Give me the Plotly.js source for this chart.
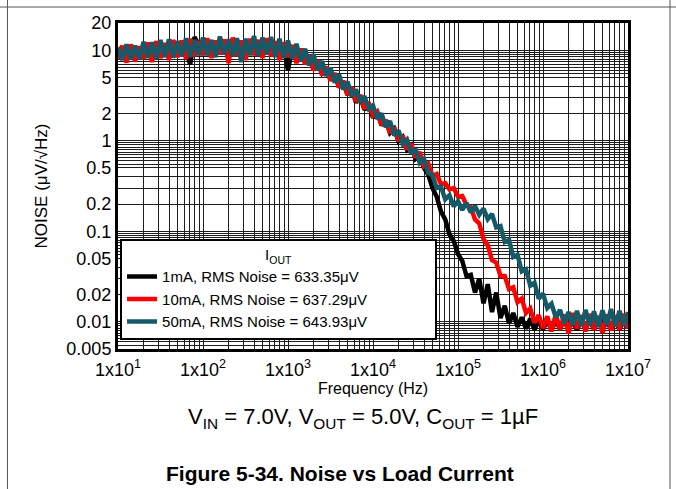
<!DOCTYPE html>
<html>
<head>
<meta charset="utf-8">
<script src="https://cdn.plot.ly/plotly-3.0.1.min.js"></script>
<style>html,body{margin:0;padding:0;background:#fff;}#chart{width:676px;height:489px;}</style>
</head>
<body>
<div id="chart"></div>
<script>
// Frequency points (Hz)
const freqHz = [
  10, 11.2, 12.6, 14.1, 15.8, 17.8, 20, 22.4, 25.1, 28.2, 31.6, 35.5, 39.8, 44.7, 50.1, 56.2, 63.1, 70.8, 79.4, 89.1,
  100, 112, 126, 141, 158, 178, 200, 224, 251, 282, 316, 355, 398, 447, 501, 562, 631, 708, 794, 891,
  1000, 1122, 1259, 1413, 1585, 1778, 1995, 2239, 2512, 2818, 3162, 3548, 3981, 4467, 5012, 5623, 6310, 7079, 7943, 8913,
  10000, 11220, 12590, 14130, 15850, 17780, 19950, 22390, 25120, 28180, 31620, 35480, 39810, 44670, 50120, 56230, 63100, 70790, 79430, 89130,
  100000, 112200, 125900, 141300, 158500, 177800, 199500, 223900, 251200, 281800, 316200, 354800, 398100, 446700, 501200, 562300, 631000, 707900, 794300, 891300,
  1000000, 1122000, 1259000, 1413000, 1585000, 1778000, 1995000, 2239000, 2512000, 2818000, 3162000, 3548000, 3981000, 4467000, 5012000, 5623000, 6310000, 7079000, 7943000, 8913000,
  10000000
];

// Noise (uV/rtHz), 1 mA load
const noise1mA = [
  9.4, 8.6, 9.0, 10.4, 8.2, 10.2, 8.6, 10.8, 8.4, 11.0, 9.0, 11.2, 9.2, 11.6, 9.2, 11.8, 9.4, 7.0, 14.0, 11.6,
  9.4, 12.0, 9.6, 12.2, 9.2, 12.4, 9.8, 12.2, 9.4, 12.0, 9.8, 12.6, 9.4, 12.2, 10.0, 12.0, 9.2, 11.8, 8.4, 11.4,
  6.0, 10.8, 8.0, 9.8, 7.4, 8.6, 6.4, 7.4, 5.6, 6.4, 4.7, 5.4, 3.9, 4.5, 3.2, 3.7, 2.65, 3.05, 2.2, 2.5,
  1.8, 2.05, 1.48, 1.68, 1.22, 1.36, 0.99, 1.1, 0.8, 0.89, 0.63, 0.69, 0.5, 0.42, 0.3, 0.24, 0.165, 0.135, 0.092, 0.078,
  0.056, 0.047, 0.032, 0.033, 0.021, 0.03, 0.016, 0.026, 0.0128, 0.021, 0.011, 0.015, 0.0096, 0.0125, 0.0088, 0.0112, 0.0084, 0.0108, 0.0082, 0.0104,
  0.0082, 0.0104, 0.0081, 0.0103, 0.0083, 0.0105, 0.0082, 0.0102, 0.0081, 0.0104, 0.0083, 0.0103, 0.0082, 0.0104, 0.0081, 0.0102, 0.0083, 0.0103, 0.0082, 0.0104,
  0.0086
];

// Noise, 10 mA load
const noise10mA = [
  8.0, 11.2, 7.3, 11.6, 7.5, 11.0, 8.0, 12.2, 7.4, 12.6, 8.2, 12.0, 7.8, 13.0, 8.4, 12.8, 8.0, 13.4, 8.6, 12.6,
  8.8, 13.6, 8.2, 12.8, 9.0, 13.2, 7.2, 13.8, 8.6, 12.8, 7.8, 13.4, 8.8, 13.0, 8.2, 13.6, 8.6, 12.6, 7.8, 12.2,
  8.4, 11.4, 7.2, 10.4, 7.0, 8.8, 6.0, 7.8, 5.3, 6.6, 4.6, 5.6, 3.9, 4.6, 3.2, 3.9, 2.7, 3.2, 2.25, 2.65,
  1.9, 2.1, 1.5, 1.7, 1.22, 1.4, 1.0, 1.14, 0.8, 0.93, 0.65, 0.75, 0.52, 0.56, 0.41, 0.43, 0.33, 0.34, 0.29, 0.3,
  0.24, 0.245, 0.195, 0.185, 0.135, 0.122, 0.082, 0.07, 0.048, 0.045, 0.032, 0.032, 0.023, 0.024, 0.0165, 0.018, 0.0125, 0.014, 0.0098, 0.0118,
  0.0085, 0.0115, 0.0078, 0.0122, 0.0082, 0.012, 0.0074, 0.0125, 0.0084, 0.0118, 0.0078, 0.0122, 0.0081, 0.0116, 0.0075, 0.012, 0.008, 0.0118, 0.0082, 0.0122,
  0.0084
];

// Noise, 50 mA load
const noise50mA = [
  10.8, 7.8, 11.6, 8.0, 11.2, 7.9, 12.4, 8.2, 12.2, 8.0, 13.0, 8.4, 13.2, 8.3, 12.6, 8.6, 13.6, 8.4, 13.0, 8.8,
  13.8, 8.8, 13.0, 8.4, 14.2, 9.0, 13.2, 8.6, 13.6, 7.4, 13.4, 8.8, 14.4, 8.7, 13.8, 9.0, 14.0, 8.4, 13.4, 8.2,
  12.8, 8.0, 11.8, 7.6, 10.4, 6.8, 9.0, 6.0, 7.6, 5.2, 6.4, 4.4, 5.4, 3.7, 4.5, 3.1, 3.7, 2.65, 3.1, 2.25,
  2.45, 1.75, 2.0, 1.42, 1.65, 1.15, 1.3, 0.92, 1.03, 0.72, 0.81, 0.57, 0.63, 0.44, 0.42, 0.3, 0.31, 0.225, 0.25, 0.188,
  0.215, 0.172, 0.205, 0.162, 0.19, 0.152, 0.178, 0.136, 0.155, 0.11, 0.114, 0.076, 0.08, 0.052, 0.055, 0.036, 0.038, 0.025, 0.027, 0.018,
  0.0205, 0.0142, 0.0158, 0.0112, 0.0135, 0.0097, 0.0128, 0.0092, 0.0132, 0.009, 0.0135, 0.0091, 0.013, 0.0088, 0.0134, 0.0092, 0.0138, 0.0089, 0.0132, 0.009,
  0.0128
];

const seriesNames = ['1mA, RMS Noise = 633.35μV', '10mA, RMS Noise = 637.29μV', '50mA, RMS Noise = 643.93μV'];
const seriesColors = ['#000000', '#ff0000', '#155a68'];

// Axis labels
const xTickVals = [10, 100, 1000, 10000, 100000, 1000000, 10000000];
const xTickText = ['1x10<sup>1</sup>', '1x10<sup>2</sup>', '1x10<sup>3</sup>', '1x10<sup>4</sup>', '1x10<sup>5</sup>', '1x10<sup>6</sup>', '1x10<sup>7</sup>'];
const yTickVals = [0.005, 0.01, 0.02, 0.05, 0.1, 0.2, 0.5, 1, 2, 5, 10, 20];
const yTickText = ['0.005', '0.01', '0.02', '0.05', '0.1', '0.2', '0.5', '1', '2', '5', '10', '20'];

// Grid construction (axis styling only)
const xMult = [1, 2, 3, 4, 5, 6, 7, 8, 9];
const yMult = [1, 2, 3, 4, 5, 5.5, 6, 6.5, 7, 7.5, 8, 8.5, 9, 9.5];
function gridVals(decades, mult, lo, hi) {
  const vals = [];
  decades.forEach(d => mult.forEach(m => {
    const v = +(d * m).toPrecision(6);
    if (v >= lo * 0.9999 && v <= hi * 1.0001) vals.push(v);
  }));
  return vals;
}
const xGrid = gridVals([10, 100, 1000, 1e4, 1e5, 1e6, 1e7], xMult, 10, 1e7);
const yGrid = gridVals([0.001, 0.01, 0.1, 1, 10], yMult, 0.005, 20);

const ys = [noise1mA, noise10mA, noise50mA];
const traces = ys.map((y, i) => ({
  type: 'scatter', mode: 'lines', x: freqHz, y: y, name: seriesNames[i],
  line: {color: seriesColors[i], width: 4.5}, hoverinfo: 'skip'
}));

const font = 'Arial, "Liberation Sans", sans-serif';
const gridStyle = {showgrid: true, gridcolor: '#1e1e1e', gridwidth: 1, ticks: ''};
const layout = {
  width: 676, height: 489,
  margin: {l: 118, r: 48, t: 23, b: 140, pad: 0},
  paper_bgcolor: '#ffffff', plot_bgcolor: '#ffffff',
  font: {family: font, color: '#000000'},
  showlegend: true,
  xaxis: {
    type: 'log', range: [1, 7], tickmode: 'array', tickvals: xTickVals, ticktext: xTickText,
    showgrid: true, gridcolor: '#1e1e1e', gridwidth: 1, zeroline: false,
    minor: Object.assign({tickmode: 'array', tickvals: xGrid}, gridStyle),
    showline: true, linecolor: '#000000', linewidth: 3, mirror: true, ticks: '',
    tickfont: {size: 18, family: font}, ticklabelstandoff: 2, automargin: false,
    title: {text: 'Frequency (Hz)', font: {size: 16, family: font}, standoff: 3}
  },
  yaxis: {
    type: 'log', range: [Math.log10(0.005), Math.log10(20)], tickmode: 'array', tickvals: yTickVals, ticktext: yTickText,
    showgrid: true, gridcolor: '#1e1e1e', gridwidth: 1, zeroline: false,
    minor: Object.assign({tickmode: 'array', tickvals: yGrid}, gridStyle),
    showline: true, linecolor: '#000000', linewidth: 3, mirror: true, ticks: '',
    tickfont: {size: 18, family: font}, automargin: false,
    title: {text: 'NOISE (μV/√Hz)', font: {size: 17, family: font}, standoff: 15}
  },
  legend: {
    orientation: 'h', entrywidth: 268, entrywidthmode: 'pixels',
    x: 0.004, y: 0.028, xanchor: 'left', yanchor: 'bottom',
    bgcolor: '#ffffff', bordercolor: '#000000', borderwidth: 2,
    font: {size: 15, family: font}, itemwidth: 30, tracegroupgap: 0,
    title: {text: 'I<sub>OUT</sub>', side: 'top center', font: {size: 15, family: font}}
  },
  annotations: [
    {xref: 'paper', yref: 'paper', x: 0.48, y: -0.212, xanchor: 'center', yanchor: 'middle', showarrow: false,
     text: 'V<sub>IN</sub> = 7.0V, V<sub>OUT</sub> = 5.0V, C<sub>OUT</sub> = 1µF', font: {size: 22, family: font}},
    {xref: 'paper', yref: 'paper', x: 0.435, y: -0.383, xanchor: 'center', yanchor: 'middle', showarrow: false,
     text: '<b>Figure 5-34. Noise vs Load Current</b>', font: {size: 21, family: font}}
  ],
  shapes: [
    {type: 'line', xref: 'paper', yref: 'paper', x0: -0.232, x1: 1.094, y0: 1.049, y1: 1.049, line: {color: '#555555', width: 1}},
    {type: 'line', xref: 'paper', yref: 'paper', x0: -0.2167, x1: -0.2167, y0: 1.08, y1: -0.43, line: {color: '#555555', width: 1}},
    {type: 'line', xref: 'paper', yref: 'paper', x0: 1.0824, x1: 1.0824, y0: 1.08, y1: -0.43, line: {color: '#555555', width: 1}}
  ]
};

Plotly.newPlot('chart', traces, layout, {displayModeBar: false, staticPlot: true});
</script>
</body>
</html>
